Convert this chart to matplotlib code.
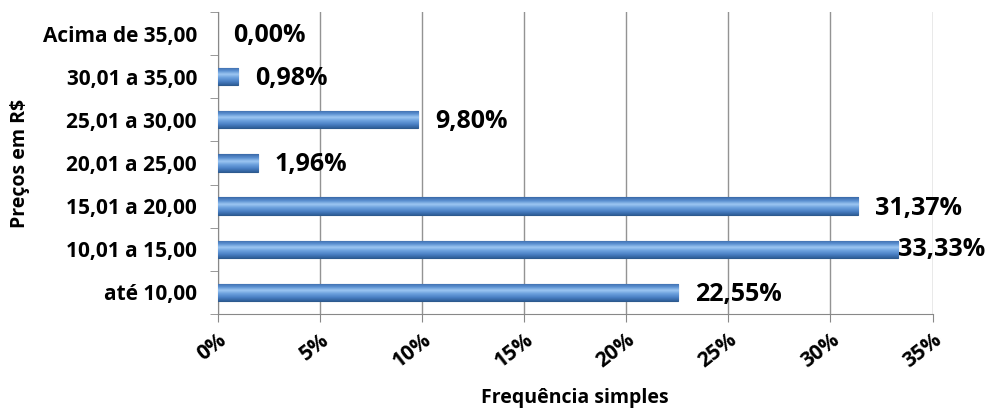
import numpy as np
import matplotlib
matplotlib.use('Agg')
import matplotlib.pyplot as plt
from matplotlib.colors import LinearSegmentedColormap
import matplotlib.transforms as mtransforms

plt.rcParams['font.family'] = ['Open Sans', 'DejaVu Sans']
plt.rcParams['font.weight'] = 'bold'

# data
categories = ['até 10,00', '10,01 a 15,00', '15,01 a 20,00', '20,01 a 25,00',
              '25,01 a 30,00', '30,01 a 35,00', 'Acima de 35,00']
values = [22.55, 33.33, 31.37, 1.96, 9.80, 0.98, 0.00]
labels = ['22,55%', '33,33%', '31,37%', '1,96%', '9,80%', '0,98%', '0,00%']
xticks = [0, 5, 10, 15, 20, 25, 30, 35]
xticklabels = ['0%', '5%', '10%', '15%', '20%', '25%', '30%', '35%']

fig = plt.figure(figsize=(9.9, 4.12), dpi=100)
ax = fig.add_axes([0.220, 0.238, 0.722, 0.733])

y = np.arange(len(categories))
bars = ax.barh(y, values, height=0.4, color='#4a7ebb', edgecolor='#2d5a8e',
               linewidth=[0.8 if v > 0 else 0 for v in values], zorder=3)

# vertical gradient inside each bar
cmap = LinearSegmentedColormap.from_list(
    'bevel', ['#2f5f9a', '#4a80c4', '#6a9fdc', '#9cc6f2', '#5a8fd0', '#3a6aa8'])
grad = np.linspace(0, 1, 64).reshape(-1, 1)
for b in bars:
    if b.get_width() <= 0:
        continue
    x0, y0, w, h = b.get_x(), b.get_y(), b.get_width(), b.get_height()
    im = ax.imshow(grad, cmap=cmap, aspect='auto', extent=[x0, x0 + w, y0, y0 + h],
                   origin='lower', zorder=3.5)
    im.set_clip_path(b)

ax.set_xlim(0, 35)
ax.set_ylim(-0.5, len(categories) - 0.5)

# value labels
offset = mtransforms.offset_copy(ax.transData, fig=fig, x=17, y=-2, units='dots')
for v, lab, yy in zip(values, labels, y):
    if v > 32:
        ax.text(1.073, yy, lab, ha='right', va='center', fontsize=18, fontweight='bold',
                transform=mtransforms.blended_transform_factory(ax.transAxes, ax.transData),
                zorder=5)
    else:
        x = v if v > 0 else -0.1
        ax.text(x, yy, lab, ha='left', va='center', fontsize=18, fontweight='bold',
                transform=offset, zorder=5)

ax.set_yticks(y)
ax.set_yticklabels(categories, fontsize=15, fontweight='bold')
ax.set_yticks(np.arange(-0.5, len(categories), 1), minor=True)
ax.tick_params(axis='y', which='major', length=0, pad=15)
ax.tick_params(axis='y', which='minor', length=6, color='#888888', direction='out')

ax.set_xticks(xticks)
ax.set_xticklabels(xticklabels, fontsize=15, fontweight='bold', rotation=38,
                   ha='right', rotation_mode='anchor')
ax.tick_params(axis='x', length=6, color='#888888', pad=5)

ax.grid(axis='x', color='#939393', linewidth=1, zorder=0)
ax.set_axisbelow(True)
for s in ['top', 'right']:
    ax.spines[s].set_visible(False)
ax.spines['left'].set_color('#888888')
ax.spines['bottom'].set_color('#888888')

ax.set_xlabel('Frequência simples', fontsize=14, fontweight='bold')
ax.xaxis.set_label_coords(0.5, -0.278)
ax.xaxis.label.set_va('center')
ax.set_ylabel('Preços em R$', fontsize=14, fontweight='bold')
ax.yaxis.set_label_coords(-0.277, 0.5)
ax.yaxis.label.set_va('center')

fig.savefig('out.png', dpi=100)
